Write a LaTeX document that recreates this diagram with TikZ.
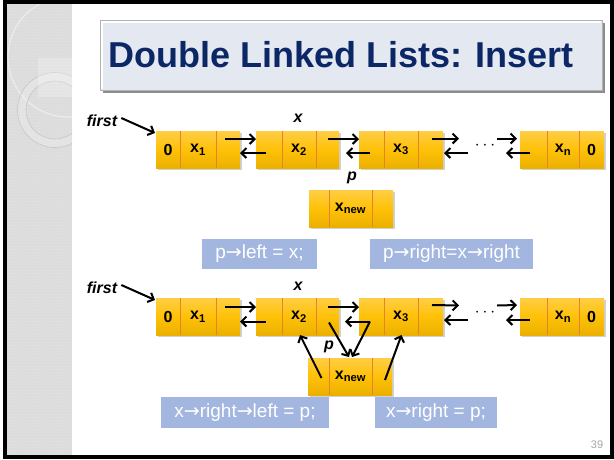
\documentclass[tikz,border=0pt]{standalone}
\usepackage{fontspec}
\setmainfont{Liberation Sans}
\newfontfamily\arrfont{DejaVu Sans}
\newcommand\rarr{{\arrfont →}}
\usetikzlibrary{arrows.meta,calc,patterns}
\definecolor{ytop}{HTML}{FFCE45}
\definecolor{ymid}{HTML}{FFC107}
\definecolor{ybot}{HTML}{EBB000}
\definecolor{divc}{HTML}{E8812A}
\definecolor{navy}{HTML}{0B2766}
\definecolor{tboxc}{HTML}{E3E8F1}
\definecolor{bluebox}{HTML}{A2B6DF}
\definecolor{stripc}{HTML}{DCDCDC}
\tikzset{
 sec/.style={rectangle, inner sep=0pt, outer sep=0pt, minimum height=37pt,
   top color=ytop, bottom color=ybot, middle color=ymid,
   font=\fontsize{16}{18}\selectfont\bfseries},
 div/.style={divc, line width=0.8pt},
 arr/.style={line width=2pt, -{Straight Barb[length=5pt,width=10pt]}},
 lbl/.style={font=\fontsize{16}{18}\selectfont\bfseries\itshape, inner sep=0pt},
 code/.style={fill=bluebox, text=white, inner sep=0pt, font=\fontsize{19}{22}\selectfont},
 shad/.style={fill=black, opacity=0.18},
}
\newcommand\listnode[9]{%
  \fill[shad] ({#2+1.5},{#3+2}) rectangle ({#2+#4+#5+#6+1.5},{#3+37+2});
  \node[sec, minimum width=#4pt, anchor=north west] (#1a) at (#2,#3) {#7};
  \node[sec, minimum width=#5pt, anchor=north west] (#1b) at (#1a.north east) {#8};
  \node[sec, minimum width=#6pt, anchor=north west] (#1c) at (#1b.north east) {#9};
  \draw[div] (#1a.north east) -- (#1a.south east);
  \draw[div] (#1b.north east) -- (#1b.south east);
}
\begin{document}
\begin{tikzpicture}[x=1pt,y=-1pt]
\useasboundingbox (0,0) rectangle (614,459);
\fill[white] (0,0) rectangle (614,459);
% left decorative strip
\begin{scope}
\clip (7,4) rectangle (72,455);
\fill[stripc] (7,4) rectangle (72,455);
\fill[pattern=dots, pattern color=white!60!stripc] (7,4) rectangle (72,455);
\draw[white!85!gray, line width=1.2pt] (68,57) circle[radius=60pt];
\fill[white, opacity=0.2, even odd rule] (55,110) circle[radius=37.5pt] (55,110) circle[radius=29pt];
\draw[gray!45, line width=0.6pt] (55,110) circle[radius=37.5pt] (55,110) circle[radius=29pt];
\fill[white, opacity=0.25] (38,58) rectangle (72,97);
\end{scope}
\draw[black, line width=4pt] (5,2) rectangle (612,457);
% title
\fill[black!45] (102.5,22.5) rectangle (604.5,92.5);
\node[draw=black!30, line width=1pt, fill=tboxc, minimum width=502pt, minimum height=70pt,
  anchor=north west, inner sep=0pt] (tbox) at (100,20) {};
\draw[white, line width=1.2pt] ($(tbox.south west)+(2,-2)$) -- ($(tbox.north west)+(2,2)$) -- ($(tbox.north east)+(-2,2)$);
\node[anchor=base west, inner sep=0pt, text=navy, font=\fontsize{36}{40}\selectfont\bfseries] (ttext) at (108,67) {Double Linked Lists: Insert};
% ---------- row 1 ----------
\listnode{A1}{156}{131}{24}{36}{24}{0}{x\textsubscript{1}}{}
\listnode{A2}{256}{131}{26}{34}{23}{}{x\textsubscript{2}}{}
\listnode{A3}{359}{131}{25}{34}{25}{}{x\textsubscript{3}}{}
\listnode{An}{520}{131}{27}{32}{25}{}{x\textsubscript{n}}{0}
\listnode{Anew}{309}{190}{20}{43}{21}{}{x\textsubscript{new}}{}
\node[lbl] (F1) at (102,121) {first};
\node[lbl] (X1) at (298,118) {x};
\node[lbl] (P1) at (352,178) {p};
\node[inner sep=0pt, font=\fontsize{16}{18}\selectfont] (Adots) at (485,146) {$\cdots$};
\coordinate (Ag3r) at (459,138.5);
\coordinate (Ag3l) at (468,153);
\coordinate (Ag4r) at (497,138.5);
\coordinate (Ag4l) at (506,153);
\draw[arr] ($(F1.east)+(4,-3)$) -- ($(A1a.north west)+(-1,2)$);
\draw[arr] ($(A1c.center)+(-3,-10.5)$) -- ($(A2a.west)+(0,-10.5)$);
\draw[arr] ($(A2a.center)+(-3,3.5)$) -- ($(A1c.east)+(0,3.5)$);
\draw[arr] ($(A2c.center)+(0,-10.5)$) -- ($(A3a.west)+(0,-10.5)$);
\draw[arr] ($(A3a.center)+(-2,3.5)$) -- ($(A2c.east)+(7,3.5)$);
\draw[arr] ($(A3c.center)+(1.5,-11)$) -- (Ag3r);
\draw[arr] (Ag3l) -- ($(A3c.east)+(1,3.5)$);
\draw[arr] (Ag4r) -- ($(Ana.west)+(-3,-11)$);
\draw[arr] ($(Ana.center)+(-3.5,3.5)$) -- (Ag4l);
\node[code, minimum width=115pt, minimum height=30pt] (C1) at (259.5,254) {p\rarr left = x;};
\node[code, minimum width=163pt, minimum height=30pt] (C2) at (451.5,254) {p\rarr right=x\rarr right};
% ---------- row 2 ----------
\listnode{B1}{156}{298}{24}{36}{24}{0}{x\textsubscript{1}}{}
\listnode{B2}{256}{298}{26}{34}{23}{}{x\textsubscript{2}}{}
\listnode{B3}{359}{298}{25}{34}{25}{}{x\textsubscript{3}}{}
\listnode{Bn}{520}{298}{27}{32}{25}{}{x\textsubscript{n}}{0}
\listnode{Bnew}{308}{358}{21}{43}{20}{}{x\textsubscript{new}}{}
\node[lbl] (F2) at (102,288) {first};
\node[lbl] (X2) at (298,286) {x};
\node[lbl] (P2) at (329,347) {p};
\node[inner sep=0pt, font=\fontsize{16}{18}\selectfont] (Bdots) at (485,313) {$\cdots$};
\coordinate (Bg3r) at (459,305.5);
\coordinate (Bg3l) at (468,320);
\coordinate (Bg4r) at (497,305.5);
\coordinate (Bg4l) at (506,320);
\draw[arr] ($(F2.east)+(4,-3)$) -- ($(B1a.north west)+(-1,2)$);
\draw[arr] ($(B1c.center)+(-3,-9.5)$) -- ($(B2a.west)+(0,-9.5)$);
\draw[arr] ($(B2a.center)+(-3,5)$) -- ($(B1c.east)+(0,5)$);
\draw[arr] ($(B2c.center)+(0,-9.5)$) -- ($(B3a.west)+(0,-9.5)$);
\draw[arr] ($(B3a.center)+(-1.5,5)$) -- ($(B2c.east)+(6,5)$);
\draw[arr] ($(B3a.center)+(-1.5,5)$) -- ($(Bnewb.north)+(1.5,-1)$);
\draw[arr] ($(B2c.center)+(1.5,6)$) -- ($(Bnewb.north)+(-1.5,-1)$);
\draw[arr] ($(Bnewa.center)+(3,1.5)$) -- ($(B2b.south)+(1,0)$);
\draw[arr] ($(Bnewc.center)+(3,3.5)$) -- ($(B3b.south)+(0.5,0)$);
\draw[arr] ($(B3c.center)+(1.5,-11.5)$) -- (Bg3r);
\draw[arr] (Bg3l) -- ($(B3c.east)+(1,3.5)$);
\draw[arr] (Bg4r) -- ($(Bna.west)+(-3,-11.5)$);
\draw[arr] ($(Bna.center)+(-3.5,3.5)$) -- (Bg4l);
\node[code, minimum width=168pt, minimum height=31pt] (C3) at (245,412.5) {x\rarr right\rarr left = p;};
\node[code, minimum width=122pt, minimum height=31pt] (C4) at (436,412.5) {x\rarr right = p;};
\node[text=gray!70, font=\fontsize{11}{12}\selectfont, inner sep=0pt] (pg) at (597,445) {39};
\end{tikzpicture}
\end{document}
